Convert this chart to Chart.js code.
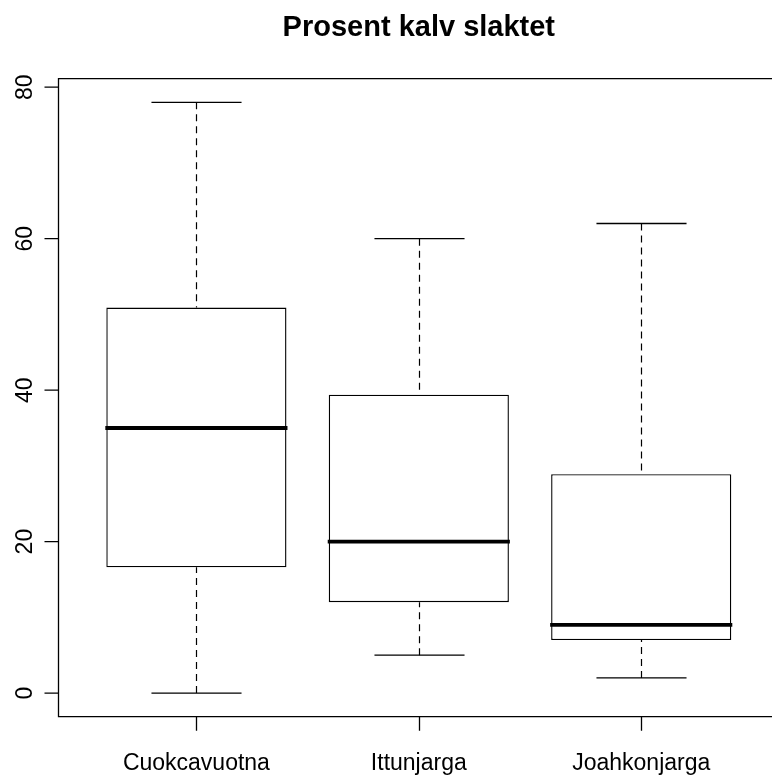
<!DOCTYPE html>
<html>
<head>
<meta charset="utf-8">
<title>Prosent kalv slaktet</title>
<script src="https://cdn.jsdelivr.net/npm/chart.js@4/dist/chart.umd.min.js"></script>
<style>
  html, body { margin: 0; padding: 0; background: #fff; overflow: hidden; }
  canvas { display: block; }
</style>
</head>
<body>
<canvas id="box" width="772" height="776"></canvas>
<script>
// Five-number summaries per area
const categories = ['Cuokcavuotna', 'Ittunjarga', 'Joahkonjarga'];
const whiskerLow = [0, 5, 2];
const quartile1 = [16.6, 12, 7];
const medians = [35, 20, 9];
const quartile3 = [50.9, 39.4, 28.9];
const whiskerHigh = [78, 60, 62];
const yTickValues = [0, 20, 40, 60, 80];
const chartTitle = 'Prosent kalv slaktet';

const FONT = '"Liberation Sans", Arial, Helvetica, sans-serif';

// Boxes are floating bars spanning Q1..Q3
const boxData = categories.map((c, i) => ({ x: i + 1, y: [quartile1[i], quartile3[i]] }));

const boxExtras = {
  id: 'boxExtras',
  afterDatasetsDraw(chart) {
    const { ctx, scales: { y } } = chart;
    const meta = chart.getDatasetMeta(0);
    ctx.save();
    categories.forEach((c, i) => {
      const bar = meta.data[i];
      const cx = Math.round(bar.x) + 0.5;
      const half = bar.width / 2;
      const capHalf = half / 2;
      const yHi = y.getPixelForValue(whiskerHigh[i]);
      const yQ3 = y.getPixelForValue(quartile3[i]);
      const yQ1 = y.getPixelForValue(quartile1[i]);
      const yLo = y.getPixelForValue(whiskerLow[i]);
      const yMed = y.getPixelForValue(medians[i]);

      // dashed whiskers, drawn from the extremes toward the box
      ctx.strokeStyle = '#000';
      ctx.lineWidth = 1.2;
      ctx.setLineDash([7, 5]);
      ctx.beginPath();
      ctx.moveTo(cx, yHi); ctx.lineTo(cx, yQ3);
      ctx.moveTo(cx, yLo); ctx.lineTo(cx, yQ1);
      ctx.stroke();

      // caps
      ctx.setLineDash([]);
      ctx.lineWidth = 1.3;
      ctx.beginPath();
      ctx.moveTo(cx - capHalf, yHi); ctx.lineTo(cx + capHalf, yHi);
      ctx.moveTo(cx - capHalf, yLo); ctx.lineTo(cx + capHalf, yLo);
      ctx.stroke();

      // median
      ctx.lineWidth = 3.8;
      ctx.beginPath();
      ctx.moveTo(bar.x - half - 1, yMed); ctx.lineTo(bar.x + half + 1, yMed);
      ctx.stroke();
    });
    ctx.restore();
  },
  afterDraw(chart) {
    const { ctx, chartArea: a, scales: { x, y } } = chart;
    ctx.save();
    ctx.strokeStyle = '#000';
    ctx.fillStyle = '#000';
    ctx.lineWidth = 1.3;
    ctx.setLineDash([]);

    // plot frame (the right edge lies just past the canvas)
    ctx.beginPath();
    ctx.moveTo(a.right + 5, a.top);
    ctx.lineTo(a.left, a.top);
    ctx.lineTo(a.left, a.bottom);
    ctx.lineTo(a.right + 5, a.bottom);
    ctx.stroke();

    // y axis ticks and rotated labels
    ctx.font = '23px ' + FONT;
    ctx.beginPath();
    yTickValues.forEach(v => {
      const py = y.getPixelForValue(v);
      ctx.moveTo(a.left - 14, py); ctx.lineTo(a.left, py);
    });
    ctx.stroke();
    yTickValues.forEach(v => {
      const py = y.getPixelForValue(v);
      ctx.save();
      ctx.translate(31.5, py);
      ctx.rotate(-Math.PI / 2);
      ctx.textAlign = 'center';
      ctx.textBaseline = 'alphabetic';
      ctx.fillText(String(v), 0, 0);
      ctx.restore();
    });

    // x axis ticks and labels
    ctx.beginPath();
    categories.forEach((c, i) => {
      const px = Math.round(x.getPixelForValue(i + 1)) + 0.5;
      ctx.moveTo(px, a.bottom); ctx.lineTo(px, a.bottom + 14);
    });
    ctx.stroke();
    ctx.textAlign = 'center';
    ctx.textBaseline = 'alphabetic';
    categories.forEach((c, i) => {
      ctx.fillText(c, x.getPixelForValue(i + 1), 770);
    });

    // title, centred over the full plot region (0.38 .. 3.62)
    ctx.font = 'bold 29px ' + FONT;
    const cx = (x.getPixelForValue(0.38) + x.getPixelForValue(3.62)) / 2;
    ctx.fillText(chartTitle, cx, 36);
    ctx.restore();
  }
};

new Chart(document.getElementById('box'), {
  type: 'bar',
  data: {
    datasets: [{
      data: boxData,
      backgroundColor: '#ffffff',
      borderColor: '#000000',
      borderWidth: 1.4,
      borderSkipped: false,
      categoryPercentage: 0.81,
      barPercentage: 1.0
    }]
  },
  options: {
    responsive: false,
    animation: false,
    layout: { padding: { left: 58.5, right: 0, top: 78.7, bottom: 59.3 } },
    plugins: { legend: { display: false }, tooltip: { enabled: false }, title: { display: false } },
    scales: {
      x: {
        type: 'linear', min: 0.38, max: 3.588, offset: false, display: false,
        afterBuildTicks: s => { s.ticks = categories.map((c, i) => ({ value: i + 1 })); }
      },
      y: { type: 'linear', min: -3.12, max: 81.12, display: false }
    }
  },
  plugins: [boxExtras]
});
</script>
</body>
</html>
